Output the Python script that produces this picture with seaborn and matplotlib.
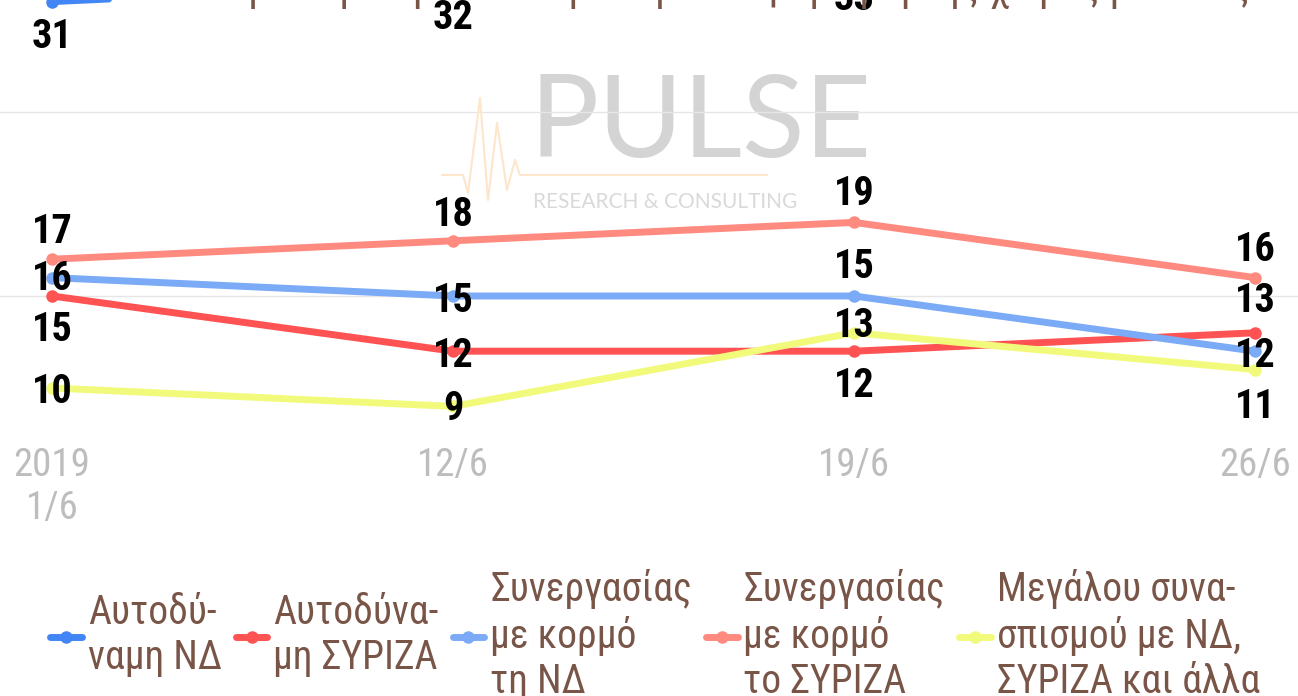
import numpy as np
import pandas as pd
import matplotlib
matplotlib.use('Agg')
import matplotlib.pyplot as plt
from matplotlib.lines import Line2D
import seaborn as sns

# --- data ---
dates = ['2019\n1/6', '12/6', '19/6', '26/6']
series_names = ['Αυτοδύ-\nναμη ΝΔ',
                'Αυτοδύνα-\nμη ΣΥΡΙΖΑ',
                'Συνεργασίας\nμε κορμό\nτη ΝΔ',
                'Συνεργασίας\nμε κορμό\nτο ΣΥΡΙΖΑ',
                'Μεγάλου συνα-\nσπισμού με ΝΔ,\nΣΥΡΙΖΑ και άλλα']
nd_alone = [31, 32, 33, 36]
syriza_alone = [15, 12, 12, 13]
nd_coalition = [16, 15, 15, 12]
syriza_coalition = [17, 18, 19, 16]
grand_coalition = [10, 9, 13, 11]
all_series = [nd_alone, syriza_alone, nd_coalition, syriza_coalition, grand_coalition]

# --- style ---
colors = ['#4285F4', '#FF5252', '#7BAAF7', '#FF8A80', '#F2FA7B']
TEXT_BROWN = '#795548'
TICK_GRAY = '#BDBDBD'
# vertical placement of value labels (pixels, + = below the point)
label_dy = [[31, 31, 30, 31],
            [30, 1, 31, -36],
            [-3, 1, -33, 1],
            [-31, -30, -32, -32],
            [0, -1, -11, 33]]

sns.set_style('white')
plt.rcParams['font.family'] = ['Roboto Condensed', 'Roboto', 'DejaVu Sans']

W, H = 1298, 696
fig = plt.figure(figsize=(W / 100, H / 100), dpi=100)
ax = fig.add_axes([0, 1 - 435 / H, 1, 435 / H])

df = pd.DataFrame({
    'x': np.tile(np.arange(len(dates)), len(series_names)),
    'value': np.concatenate(all_series),
    'series': np.repeat(series_names, len(dates)),
})

# watermark (behind everything)
ax.text(701 / W, 1 - 157 / H, 'PULSE', transform=fig.transFigure, ha='center', va='baseline',
        fontsize=83, color='#D4D4D4', family=['Lato', 'DejaVu Sans'], zorder=0.5)
ax.text(533 / W, 1 - 208 / H, 'RESEARCH & CONSULTING', transform=fig.transFigure, ha='left',
        va='baseline', fontsize=15, color='#D9D9D9', family=['Lato', 'DejaVu Sans'], zorder=0.5)
hb_x = np.array([442, 463, 468, 480, 488, 497, 507, 515, 520, 767])
hb_y = np.array([175, 175, 193, 98, 200, 123, 190, 160, 175, 175])
ax.plot(hb_x / W, 1 - hb_y / H, transform=fig.transFigure, color='#FDE6CC', lw=1.5, zorder=0.6)

sns.lineplot(data=df, x='x', y='value', hue='series', hue_order=series_names,
             palette=colors, marker='o', markersize=9, markeredgewidth=0,
             linewidth=5, sort=False, legend=False, ax=ax)

for vals, dys in zip(all_series, label_dy):
    for i, (v, dy) in enumerate(zip(vals, dys)):
        ax.annotate(str(v), (i, v), xytext=(0, -(dy + 15)), textcoords='offset pixels',
                    ha='center', va='baseline', fontsize=29, fontweight='bold',
                    color='black', annotation_clip=False, zorder=5)

ax.set_xticks(range(len(dates)))
ax.set_xticklabels(dates, color=TICK_GRAY, fontsize=28)
ax.set_yticks([5, 15, 25, 35])
ax.set_yticklabels([])
# limits after the ticks, so the ticks do not widen the view
ax.set_xlim(-52 / 401, (W - 52) / 401)
px_per_unit = 18.4
ax.set_ylim(15 - (435 - 296) / px_per_unit, 15 + 296 / px_per_unit)
ax.tick_params(length=0, pad=9)
ax.grid(axis='y', color='#E6E6E6', lw=1)
ax.grid(axis='x', visible=False)
ax.set_xlabel('')
ax.set_ylabel('')
sns.despine(ax=ax, left=True, bottom=True)

# clipped title above the visible area
fig.text(747 / W, 1.0, 'Ποια λύση θα προτιμούσατε για τη διακυβέρνηση της χώρας μετά τις εκλογές;',
         ha='center', va='baseline', fontsize=30, color=TEXT_BROWN)

handles = [Line2D([], [], color=c, lw=5, marker='o', markersize=9, markeredgewidth=0)
           for c in colors]
leg = fig.legend(handles, series_names, loc='center', bbox_to_anchor=(655 / W, 1 - 635 / H),
                 ncol=5, frameon=False, fontsize=28.5, handlelength=0.8, handletextpad=0.15,
                 columnspacing=0.35, labelcolor=TEXT_BROWN)

fig.savefig('out.png', dpi=100)
